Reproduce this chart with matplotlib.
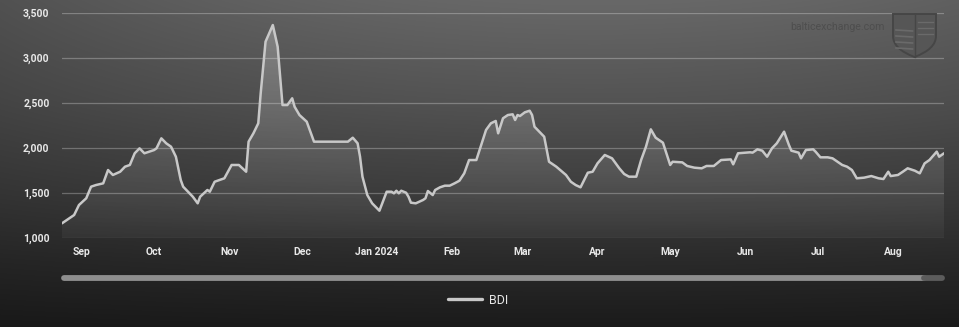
import numpy as np
import pandas as pd
import matplotlib
matplotlib.use("Agg")
import matplotlib.pyplot as plt
import matplotlib.dates as mdates
from matplotlib.lines import Line2D
from matplotlib.patches import PathPatch
from matplotlib.path import Path
from matplotlib.transforms import IdentityTransform
from matplotlib.ticker import FixedLocator, FixedFormatter, FuncFormatter

# ---------------- data ----------------
dates = [
    "2023-08-24", "2023-08-27", "2023-08-29", "2023-08-31", "2023-09-03", "2023-09-05", "2023-09-07", "2023-09-10", "2023-09-12", "2023-09-14",
    "2023-09-17", "2023-09-19", "2023-09-21", "2023-09-23", "2023-09-25", "2023-09-27", "2023-10-01", "2023-10-02", "2023-10-04", "2023-10-06",
    "2023-10-08", "2023-10-10", "2023-10-12", "2023-10-13", "2023-10-15", "2023-10-17", "2023-10-19", "2023-10-20", "2023-10-23", "2023-10-24",
    "2023-10-26", "2023-10-28", "2023-10-30", "2023-11-02", "2023-11-05", "2023-11-08", "2023-11-09", "2023-11-11", "2023-11-13", "2023-11-14",
    "2023-11-16", "2023-11-19", "2023-11-21", "2023-11-23", "2023-11-25", "2023-11-27", "2023-11-28", "2023-11-30", "2023-12-03", "2023-12-04",
    "2023-12-06", "2023-12-20", "2023-12-22", "2023-12-24", "2023-12-25", "2023-12-26", "2023-12-28", "2023-12-30", "2024-01-02", "2024-01-05",
    "2024-01-07", "2024-01-08", "2024-01-09", "2024-01-10", "2024-01-11", "2024-01-13", "2024-01-14", "2024-01-15", "2024-01-17", "2024-01-20",
    "2024-01-21", "2024-01-22", "2024-01-24", "2024-01-25", "2024-01-27", "2024-01-29", "2024-01-31", "2024-02-02", "2024-02-04", "2024-02-06",
    "2024-02-08", "2024-02-11", "2024-02-13", "2024-02-15", "2024-02-17", "2024-02-19", "2024-02-20", "2024-02-22", "2024-02-24", "2024-02-26",
    "2024-02-27", "2024-02-28", "2024-02-29", "2024-03-02", "2024-03-04", "2024-03-05", "2024-03-06", "2024-03-08", "2024-03-10", "2024-03-12",
    "2024-03-15", "2024-03-19", "2024-03-21", "2024-03-23", "2024-03-25", "2024-03-28", "2024-03-30", "2024-04-01", "2024-04-04", "2024-04-07",
    "2024-04-10", "2024-04-12", "2024-04-14", "2024-04-17", "2024-04-19", "2024-04-21", "2024-04-23", "2024-04-25", "2024-04-28", "2024-05-01",
    "2024-05-02", "2024-05-06", "2024-05-08", "2024-05-11", "2024-05-14", "2024-05-16", "2024-05-19", "2024-05-22", "2024-05-26", "2024-05-27",
    "2024-05-29", "2024-06-03", "2024-06-04", "2024-06-06", "2024-06-08", "2024-06-10", "2024-06-12", "2024-06-14", "2024-06-17", "2024-06-19",
    "2024-06-20", "2024-06-23", "2024-06-24", "2024-06-26", "2024-06-29", "2024-06-30", "2024-07-02", "2024-07-05", "2024-07-07", "2024-07-11",
    "2024-07-13", "2024-07-15", "2024-07-17", "2024-07-20", "2024-07-23", "2024-07-26", "2024-07-28", "2024-07-30", "2024-07-31", "2024-08-03",
    "2024-08-05", "2024-08-07", "2024-08-10", "2024-08-12", "2024-08-14", "2024-08-16", "2024-08-19", "2024-08-20", "2024-08-22",
]

bdi = [
    1160, 1215, 1252, 1363, 1438, 1567, 1585, 1604, 1752, 1697,
    1733, 1789, 1808, 1938, 1993, 1938, 1974, 1993, 2104, 2049,
    2011, 1900, 1641, 1567, 1511, 1455, 1382, 1455, 1530, 1511,
    1622, 1641, 1660, 1808, 1808, 1733, 2067, 2160, 2271, 2604,
    3178, 3363, 3122, 2474, 2474, 2549, 2455, 2363, 2289, 2215,
    2067, 2067, 2111, 2049, 1900, 1678, 1474, 1382, 1300, 1511,
    1511, 1493, 1522, 1493, 1522, 1500, 1455, 1389, 1382, 1419,
    1438, 1519, 1474, 1530, 1560, 1578, 1578, 1604, 1633, 1715,
    1863, 1863, 2030, 2197, 2271, 2297, 2160, 2327, 2363, 2371,
    2308, 2363, 2352, 2393, 2411, 2363, 2233, 2178, 2122, 1844,
    1789, 1697, 1622, 1585, 1560, 1722, 1733, 1826, 1919, 1882,
    1771, 1708, 1678, 1678, 1863, 2011, 2204, 2111, 2056, 1808,
    1844, 1837, 1797, 1778, 1771, 1797, 1797, 1863, 1870, 1815,
    1938, 1949, 1945, 1982, 1967, 1900, 1993, 2049, 2178, 2030,
    1967, 1945, 1882, 1974, 1982, 1956, 1893, 1893, 1882, 1808,
    1789, 1752, 1660, 1667, 1685, 1660, 1652, 1733, 1685, 1697,
    1733, 1771, 1744, 1715, 1826, 1863, 1956, 1900, 1938,
]

series_name = "BDI"
y_ticks = [1000, 1500, 2000, 2500, 3000, 3500]
month_ticks = ["2023-09-01", "2023-10-01", "2023-11-01", "2023-12-01", "2024-01-01", "2024-02-01",
               "2024-03-01", "2024-04-01", "2024-05-01", "2024-06-01", "2024-07-01", "2024-08-01"]
month_labels = ["Sep", "Oct", "Nov", "Dec", "Jan 2024", "Feb", "Mar", "Apr", "May", "Jun", "Jul", "Aug"]
watermark = "balticexchange.com"

# ---------------- figure ----------------
W, H = 959, 327
FONT = ["Roboto", "DejaVu Sans"]
fig = plt.figure(figsize=(W / 100, H / 100), dpi=100)

# background gradient
bg = fig.add_axes([0, 0, 1, 1], zorder=-10)
yy = np.linspace(0, 1, H)[:, None]
xx = np.linspace(0, 1, W)[None, :]
v = np.interp(yy.ravel(), [0, 0.3, 0.6, 0.8, 1.0], [104, 84, 60, 42, 27])[:, None]
horiz = 1 - 0.22 * ((xx - 0.62) / 0.62) ** 2 * (1 - 0.6 * yy)
img = np.clip(v * horiz / 255.0, 0, 1)
bg.imshow(np.dstack([img, img, img]), aspect="auto", extent=[0, 1, 0, 1], origin="upper")
bg.set_xlim(0, 1)
bg.set_ylim(0, 1)
bg.axis("off")

# main axes
x0, x1 = 62, 944
ytop, ybot = 12.7, 237.7
ax = fig.add_axes([x0 / W, (H - ybot) / H, (x1 - x0) / W, (ybot - ytop) / H])
ax.patch.set_alpha(0)

x = pd.to_datetime(dates)
xn = mdates.date2num(x)

# gradient fill under the line
fill = ax.fill_between(x, bdi, 1000, facecolor="none", edgecolor="none")
grad = np.linspace(1, 0, 256)[:, None]
rgba = np.zeros((256, 1, 4))
rgba[..., :3] = 1.0
rgba[..., 3] = 0.04 + 0.22 * grad
im = ax.imshow(rgba, aspect="auto", extent=[xn[0], xn[-1], 1000, 3500], origin="upper", zorder=2)
im.set_clip_path(fill.get_paths()[0], transform=ax.transData)

ax.plot(x, bdi, color="#c8c8c8", lw=1.8, label=series_name, zorder=3,
        solid_joinstyle="round", solid_capstyle="round")

ax.set_xlim(xn[0], xn[-1])
ax.set_ylim(1000, 3500)

ax.yaxis.set_major_locator(FixedLocator(y_ticks))
ax.yaxis.set_major_formatter(FuncFormatter(lambda v, p: f"{v:,.0f}"))
ax.xaxis.set_major_locator(FixedLocator(mdates.date2num(pd.to_datetime(month_ticks))))
ax.xaxis.set_major_formatter(FixedFormatter(month_labels))

ax.grid(axis="y", color="white", alpha=0.27, lw=0.9, zorder=1)
ax.grid(axis="x", visible=False)
for s in ax.spines.values():
    s.set_visible(False)
ax.tick_params(axis="both", length=0, colors="#e8e8e8")
ax.tick_params(axis="y", pad=9)
ax.tick_params(axis="x", pad=7)
for lab in ax.get_xticklabels() + ax.get_yticklabels():
    lab.set_family(FONT)
    lab.set_fontweight("bold")
    lab.set_fontsize(7.5)

# watermark and shield
fig.text(837 / W, 1 - 27 / H, watermark, ha="center", va="center", color="#4e4e4e",
         fontsize=7.6, family=FONT)
sx0, sx1, sy0, sy1 = 893, 936, H - 14, H - 57
mid = (sx0 + sx1) / 2
verts = [(sx0, sy0), (sx1, sy0), (sx1, sy0 - 22), (sx1, sy1 + 8), (mid, sy1),
         (sx0, sy1 + 8), (sx0, sy0 - 22), (sx0, sy0)]
codes = [Path.MOVETO, Path.LINETO, Path.LINETO, Path.CURVE3, Path.CURVE3,
         Path.CURVE3, Path.CURVE3, Path.CLOSEPOLY]
shield = PathPatch(Path(verts, codes), transform=IdentityTransform(),
                   facecolor="#565656", edgecolor="#464646", lw=1.4)
fig.patches.append(shield)
fig.lines.append(Line2D([mid, mid], [sy0, sy1], transform=IdentityTransform(), color="#464646", lw=1))
for k in range(4):
    yk = sy0 - 16 - k * 6
    fig.lines.append(Line2D([sx0 + 3, mid - 2], [yk, yk - 1], transform=IdentityTransform(),
                            color="#6a6a6a", lw=1.2))
for k in range(3):
    yk = sy0 - 8 - k * 6
    fig.lines.append(Line2D([mid + 3, sx1 - 3], [yk, yk], transform=IdentityTransform(),
                            color="#6a6a6a", lw=1.0))

# scrollbar
sb_y = H - 277.5
fig.lines.append(Line2D([x0 + 2, 924], [sb_y, sb_y], transform=IdentityTransform(),
                        color="#8e8e8e", lw=4.2, solid_capstyle="round"))
fig.lines.append(Line2D([924, x1 - 2], [sb_y, sb_y], transform=IdentityTransform(),
                        color="#5c5c5c", lw=4.2, solid_capstyle="round"))

# legend
leg = fig.legend(loc="center", bbox_to_anchor=(478 / W, 1 - 300 / H), frameon=False,
                 handlelength=2.7, handletextpad=0.6, prop={"family": FONT, "size": 9})
for t in leg.get_texts():
    t.set_color("#e6e6e6")
for h in leg.legend_handles:
    h.set_linewidth(2.4)

fig.savefig("out.png", dpi=100)
